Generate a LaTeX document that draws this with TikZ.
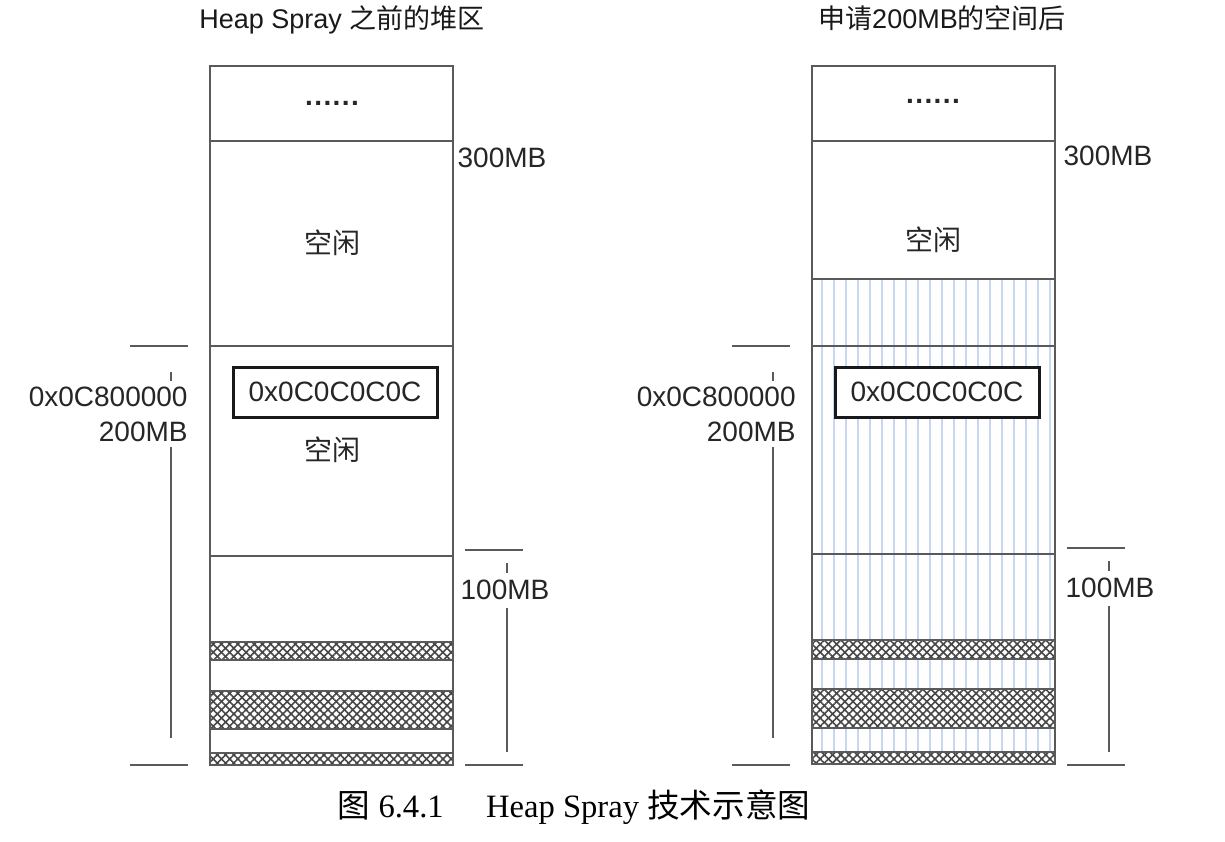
\documentclass[tikz,border=0pt]{standalone}
\usepackage{fontspec}
\setmainfont{Liberation Serif}
\setsansfont{Liberation Sans}
\newfontfamily\cjk{Noto Sans CJK SC}
\usetikzlibrary{patterns.meta,positioning}
\usepackage{xcolor}
\definecolor{LineGray}{RGB}{90,90,90}
\definecolor{HatchGray}{RGB}{70,70,70}
\definecolor{SprayBlue}{RGB}{200,216,240}
\tikzset{
  memline/.style={draw=LineGray,line width=0.7pt},
  dimline/.style={draw=LineGray,line width=0.8pt},
  sprayline/.style={draw=SprayBlue,line width=0.6pt},
  hatchA/.style={pattern={Lines[angle=45,distance=2.9pt,line width=0.8pt]},pattern color=HatchGray},
  hatchB/.style={pattern={Lines[angle=-45,distance=2.9pt,line width=0.8pt]},pattern color=HatchGray},
  lbl/.style={font=\sffamily\fontsize{14}{17.5}\selectfont,inner sep=1pt,text=black!85},
  dots/.style={lbl,font=\sffamily\bfseries\fontsize{14}{16}\selectfont},
  zh/.style={font=\cjk\fontsize{14}{17}\selectfont,inner sep=1pt,text=black!85},
  addrbox/.style={lbl,draw=black!90,line width=1.5pt,minimum width=102pt,minimum height=25pt},
  dimlbl/.style={lbl,fill=white,align=right,anchor=east,inner xsep=1pt,inner ysep=3pt},
  sizelbl/.style={lbl,fill=white,minimum height=17.5pt},
  titlelbl/.style={font=\sffamily\fontsize{13.5}{15}\selectfont,text=black!90},
}

\begin{document}
\begin{tikzpicture}[x=0.5pt,y=-0.5pt]
  \useasboundingbox (0,0) rectangle (1225,841);

  % titles
  \node[titlelbl] (titleL) at (342,20) {Heap Spray {\cjk 之前的堆区}};
  \node[titlelbl] (titleR) at (942,18) {{\cjk 申请}200MB{\cjk 的空间后}};

  % ---- left heap ----
  \foreach \ya/\yb in {642/660, 691/729, 753/765}{
    \fill[white] (210,\ya) rectangle (453,\yb);
    \fill[hatchA] (210,\ya) rectangle (453,\yb);
    \fill[hatchB] (210,\ya) rectangle (453,\yb);
    \draw[memline] (210,\ya) rectangle (453,\yb);
  }
  \draw[memline] (210,66) rectangle (453,765);
  \foreach \y in {141,346,556}
    \draw[memline] (210,\y) -- (453,\y);

  \node[dots] (dotsL) at (332,103) {.\kern.7pt.\kern.7pt.\kern.7pt.\kern.7pt.\kern.7pt.};
  \node[zh] (freeTopL) at (332,243) {空闲};
  \node[addrbox] (addrL) at (335,392) {0x0C0C0C0C};
  \node[zh] (freeL) at (332,450) {空闲};
  \node[lbl] (mb300L) at (502,158) {300MB};

  % dimension 200MB (left)
  \draw[dimline] (130,346) -- (188,346);
  \draw[dimline] (130,765) -- (188,765);
  \draw[dimline] (171,372) -- (171,738);
  \node[dimlbl] (dimL) at (190,414) {0x0C800000\\200MB};

  % dimension 100MB (left)
  \draw[dimline] (465,550) -- (523,550);
  \draw[dimline] (465,765) -- (523,765);
  \draw[dimline] (507,563) -- (507,752);
  \node[sizelbl] (mb100L) at (505,590) {100MB};

  % ---- right heap, after spraying ----
  \foreach \k in {0,...,19}
    \draw[sprayline] (822+12*\k,279) -- (822+12*\k,764);
  \foreach \ya/\yb in {640/659, 689/728, 752/764}{
    \fill[white] (812,\ya) rectangle (1055,\yb);
    \fill[hatchA] (812,\ya) rectangle (1055,\yb);
    \fill[hatchB] (812,\ya) rectangle (1055,\yb);
    \draw[memline] (812,\ya) rectangle (1055,\yb);
  }
  \draw[memline] (812,66) rectangle (1055,764);
  \foreach \y in {141,279,346,554}
    \draw[memline] (812,\y) -- (1055,\y);

  \node[dots] (dotsR) at (933,101) {.\kern.7pt.\kern.7pt.\kern.7pt.\kern.7pt.\kern.7pt.};
  \node[zh] (freeTopR) at (933,240) {空闲};
  \node[addrbox,fill=white] (addrR) at (937,392) {0x0C0C0C0C};
  \node[lbl] (mb300R) at (1108,156) {300MB};

  % dimension 200MB (right)
  \draw[dimline] (732,346) -- (790,346);
  \draw[dimline] (732,765) -- (790,765);
  \draw[dimline] (773,372) -- (773,738);
  \node[dimlbl] (dimR) at (798,414) {0x0C800000\\200MB};

  % dimension 100MB (right)
  \draw[dimline] (1067,548) -- (1125,548);
  \draw[dimline] (1067,765) -- (1125,765);
  \draw[dimline] (1109,561) -- (1109,752);
  \node[sizelbl] (mb100R) at (1110,588) {100MB};

  % caption
  \node[font=\rmfamily\fontsize{16.3}{18}\selectfont] (caption) at (574,807)
    {{\cjk 图} 6.4.1\hspace{1.3em}Heap Spray {\cjk 技术示意图}};
\end{tikzpicture}
\end{document}
